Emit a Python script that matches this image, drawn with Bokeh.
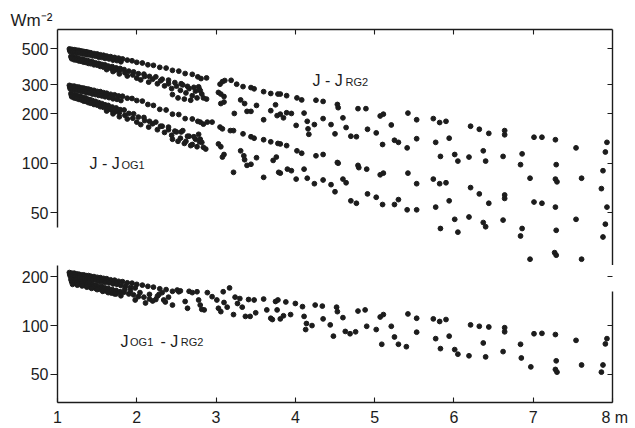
from bokeh.plotting import figure
from bokeh.layouts import column
from bokeh.models import Range1d, LogAxis, FixedTicker, NumeralTickFormatter, Label
from bokeh.embed import file_html
from bokeh.resources import INLINE

FONT = "Liberation Sans"
INK = "#1c1c1c"

# ---------------- axis ticks ----------------
x_ticks = [1, 2, 3, 4, 5, 6, 7, 8]
x_inner_ticks = [2, 3, 4, 5, 6, 7]
top_y_ticks = [50, 100, 200, 300, 500]
bottom_y_ticks = [50, 100, 200]
unit_label_y = "Wm\u207b\u00b2"
x_last_label = "\u00a08\u00a0m"

# ---------------- J - J_RG2 (upper band, top panel) ----------------
rg2_row_a1 = [(1.15,497),(1.18,494),(1.21,492),(1.24,489),(1.27,487),(1.30,483),(1.33,480),(1.36,478),(1.39,474),(1.42,471),(1.46,466),(1.50,463),(1.54,458),(1.58,455),(1.62,450),(1.67,446),(1.72,441),(1.77,437),(1.82,432),(1.88,425),(1.94,421),(2.00,412),(2.07,408),(2.14,398),(2.21,395),(2.29,384),(2.37,380),(2.45,368),(2.53,364),(2.61,352),(2.70,348)]
rg2_row_a3 = [(1.155,488),(1.185,486),(1.215,483),(1.245,480),(1.275,478),(1.305,475),(1.335,472),(1.365,469),(1.395,466),(1.43,462),(1.47,458),(1.51,454),(1.55,450),(1.59,446),(1.635,442)]
rg2_row_a2 = [(1.16,479),(1.19,475),(1.22,474),(1.25,470),(1.28,469),(1.31,464),(1.34,463),(1.37,458),(1.40,457),(1.44,451),(1.48,449),(1.52,443),(1.56,441),(1.60,435),(1.65,432),(1.70,425),(1.75,422),(1.80,415)]
rg2_row_b1 = [(1.17,448),(1.20,444),(1.23,440),(1.26,437),(1.29,431),(1.32,430),(1.35,424),(1.38,422),(1.41,417),(1.44,415),(1.48,409),(1.52,406),(1.56,400),(1.60,397),(1.64,391),(1.69,388),(1.74,381),(1.79,378),(1.84,372),(1.90,364),(1.96,360),(2.02,351),(2.09,349),(2.16,338),(2.24,336),(2.32,325),(2.40,321),(2.48,310),(2.56,305),(2.64,294),(2.72,290)]
rg2_row_b3 = [(1.175,440),(1.205,436),(1.235,433),(1.265,429),(1.295,426),(1.325,422),(1.355,419),(1.385,415),(1.415,412),(1.45,407),(1.49,403),(1.53,398),(1.57,394),(1.61,390)]
rg2_row_b2 = [(1.18,433),(1.21,427),(1.24,425),(1.27,420),(1.30,418),(1.33,413),(1.36,411),(1.39,406),(1.42,404),(1.46,398),(1.50,396),(1.54,389),(1.58,385),(1.63,380),(1.68,377),(1.73,370),(1.78,367)]
rg2_scatter = [(1.62,372),(1.70,362),(1.78,350),(1.85,356),(1.88,340),(1.95,345),(2.00,330),(2.05,322),(2.10,338),(2.15,312),(2.20,325),(2.26,305),(2.30,318),(2.35,296),(2.40,305),(2.44,285),(2.45,262),(2.50,295),(2.52,250),(2.55,278),(2.58,300),(2.60,246),(2.62,268),(2.66,285),(2.68,242),(2.70,258),(2.74,275),(2.76,250),(2.78,292),(2.77,336),(2.79,282)]
rg2_mid = [(2.81,328),(2.88,331),(3.05,303),(3.08,314),(3.11,319),(3.19,320),(3.26,303),(3.34,293),(3.44,289),(3.48,284),(3.60,273),(3.69,266),(3.78,264),(3.81,264),(3.89,258),(4.02,250),
           (2.80,277),(2.82,264),(2.84,250),(2.88,246),(3.03,270),(3.06,264),(3.10,255),(3.06,231),(3.10,236),(3.23,201),(3.31,243),(3.36,231),(3.39,207),(3.44,207),(3.51,225),(3.60,184),(3.69,209),(3.75,227),(3.77,195),(3.81,199),(3.85,189),(3.89,203),(3.95,201),(4.01,170)]
rg2_far = [(4.08,243),(4.26,242),(4.35,238),(4.53,228),(4.54,218),(4.79,215),(4.89,215),(5.07,194),(5.11,199),(5.42,202),(5.53,184),(5.74,187),(5.82,177),(5.90,180),(6.21,168),(6.32,161),(6.44,152),(6.64,158),(6.64,149),(7.01,144),(7.11,144),(7.28,139),(7.54,124),(7.93,134),(7.91,117),
           (4.11,202),(4.15,180),(4.16,162),(4.17,150),(4.24,172),(4.35,187),(4.45,172),(4.50,151),(4.60,189),(4.64,165),(4.70,146),(4.77,145),(4.91,161),(5.02,153),(5.10,130),(5.21,171),(5.25,138),(5.30,134),(5.41,124),(5.53,141),(5.77,134),(5.94,142)]

# ---------------- J - J_OG1 (lower band, top panel) ----------------
og1_row_a1 = [(1.15,298),(1.18,295),(1.21,295),(1.24,292),(1.27,291),(1.30,288),(1.33,287),(1.36,284),(1.39,283),(1.42,280),(1.46,278),(1.50,274),(1.54,273),(1.58,269),(1.62,267),(1.67,263),(1.72,261),(1.77,257),(1.82,256),(1.88,249),(1.94,248),(2.00,241),(2.07,239),(2.14,228),(2.21,225),(2.29,213),(2.37,211),(2.45,199),(2.53,198),(2.61,187),(2.70,186)]
og1_row_a3 = [(1.155,291),(1.185,289),(1.215,288),(1.245,286),(1.275,284),(1.305,282),(1.335,280),(1.365,278),(1.395,276),(1.43,273),(1.47,270),(1.51,268),(1.55,265),(1.59,262),(1.635,259)]
og1_row_a2 = [(1.16,284),(1.19,281),(1.22,280),(1.25,277),(1.28,276),(1.31,273),(1.34,272),(1.37,269),(1.40,268),(1.44,264),(1.48,262),(1.52,259),(1.56,257),(1.60,254),(1.65,251),(1.70,247),(1.75,245),(1.80,241)]
og1_row_b1 = [(1.17,266),(1.20,262),(1.23,260),(1.26,257),(1.29,255),(1.32,251),(1.35,250),(1.38,246),(1.41,244),(1.44,241),(1.48,238),(1.52,234),(1.56,231),(1.60,227),(1.64,225),(1.69,220),(1.74,217),(1.79,212),(1.84,211),(1.90,201),(1.96,200),(2.02,191),(2.09,190),(2.16,180),(2.24,178),(2.32,168),(2.40,166),(2.48,157),(2.56,155),(2.64,146),(2.72,145)]
og1_row_b3 = [(1.175,260),(1.205,257),(1.235,254),(1.265,252),(1.295,249),(1.325,246),(1.355,244),(1.385,241),(1.415,238),(1.45,235),(1.49,232),(1.53,228),(1.57,225),(1.61,222)]
og1_row_b2 = [(1.18,254),(1.21,250),(1.24,248),(1.27,245),(1.30,243),(1.33,239),(1.36,238),(1.39,234),(1.42,232),(1.46,228),(1.50,226),(1.54,221),(1.58,219),(1.63,214),(1.68,211),(1.73,206),(1.78,203)]
og1_scatter = [(1.62,208),(1.70,200),(1.78,192),(1.85,196),(1.88,186),(1.95,188),(2.00,178),(2.05,172),(2.10,182),(2.15,166),(2.20,174),(2.26,160),(2.30,168),(2.35,154),(2.40,160),(2.44,148),(2.45,140),(2.50,155),(2.52,136),(2.55,142),(2.58,158),(2.60,132),(2.62,136),(2.66,146),(2.68,128),(2.70,130),(2.74,140),(2.76,126),(2.78,150),(2.77,180),(2.79,135)]
og1_mid = [(2.80,178),(2.84,173),(2.89,178),(2.95,178),(3.05,166),(3.08,162),(3.18,158),(3.22,158),(3.34,151),(3.44,145),(3.48,142),(3.60,139),(3.69,135),(3.78,132),(3.81,131),(3.89,128),(4.02,119),
           (2.80,140),(2.82,134),(2.84,125),(2.87,122),(3.03,131),(3.06,126),(3.10,113),(3.08,109),(3.22,88),(3.31,119),(3.35,111),(3.36,105),(3.39,97),(3.44,98.5),(3.51,108),(3.60,82),(3.72,104),(3.76,109),(3.79,88),(3.81,87),(3.90,92),(3.95,90),(4.01,80)]
og1_far = [(4.08,115),(4.26,111),(4.35,113),(4.53,101),(4.54,100),(4.79,97),(4.80,94),(4.90,92),(5.07,85),(5.11,87),(5.42,87),(5.53,75),(5.74,80),(5.82,75),(5.90,76),(5.83,110),(6.01,113),(6.05,103),(6.19,109),(6.37,119),(6.40,103),(6.62,110),(6.86,114),(6.84,98),(6.96,81),(7.29,98),(7.28,80),(7.30,77),(7.61,81),(7.88,90),(7.86,70),(7.93,54),
           (4.11,92),(4.15,81),(4.24,75),(4.35,79),(4.45,74),(4.50,67),(4.60,80),(4.64,76),(4.70,59),(4.77,57),(4.91,65),(5.02,62),(5.10,56),(5.25,56),(5.30,60),(5.41,52),(5.53,52),(5.77,54),(5.94,59),(6.21,71),(6.32,65),(6.44,57),(6.64,64),(6.64,61),(7.01,58),(7.11,57),(7.28,54),(6.01,45.5),(6.19,47),(6.62,45),(7.54,45.5),
           (5.83,40),(6.05,38),(6.40,41),(6.86,40),(6.84,36),(6.96,26),(7.29,39),(7.27,28.5),(7.29,27.5),(7.61,26),(7.88,35.5),(7.91,42.5),(6.37,43.5)]

# ---------------- J_OG1 - J_RG2 (bottom panel) ----------------
diff_row_a1 = [(1.15,213),(1.18,211),(1.21,211),(1.24,209),(1.27,208),(1.30,206),(1.33,206),(1.36,204),(1.39,204),(1.42,202),(1.46,201),(1.50,199),(1.54,198),(1.58,196),(1.62,195),(1.67,192),(1.72,191),(1.77,188),(1.82,187),(1.88,184),(1.94,183),(2.00,180),(2.07,178),(2.14,175),(2.21,173),(2.29,169),(2.37,167),(2.45,163),(2.53,162)]
diff_row_a3 = [(1.155,208),(1.185,206),(1.215,206),(1.245,204),(1.275,203),(1.305,201),(1.335,200),(1.365,199),(1.395,198),(1.43,196),(1.47,195),(1.51,193),(1.55,192),(1.59,190),(1.635,188),(1.685,186),(1.735,184)]
diff_row_a2 = [(1.16,203),(1.19,201),(1.22,201),(1.25,199),(1.28,199),(1.31,196),(1.34,196),(1.37,194),(1.40,194),(1.44,191),(1.48,191),(1.52,188),(1.56,187),(1.60,185),(1.65,184),(1.70,181),(1.75,180),(1.80,177),(1.86,176),(1.92,172),(1.98,171)]
diff_row_b3 = [(1.175,190),(1.205,188),(1.235,187),(1.265,185),(1.295,184),(1.325,182),(1.355,181),(1.385,179),(1.415,178),(1.45,176),(1.49,174),(1.53,172),(1.57,170),(1.61,168)]
diff_row_b1 = [(1.17,194),(1.20,191),(1.23,191),(1.26,188),(1.29,188),(1.32,185),(1.35,185),(1.38,182),(1.41,182),(1.44,179),(1.48,178),(1.52,175),(1.56,174),(1.60,171),(1.64,170),(1.69,167),(1.74,165),(1.79,162),(1.84,161),(1.90,157),(1.96,155),(2.02,151),(2.09,150),(2.16,146),(2.24,145)]
diff_row_b2 = [(1.18,186),(1.21,184),(1.24,184),(1.27,181),(1.30,181),(1.33,178),(1.36,177),(1.40,174),(1.44,173),(1.48,170),(1.53,168),(1.58,164),(1.63,162),(1.68,159),(1.74,157),(1.80,153)]
diff_row_c = [(1.19,180),(1.25,178),(1.31,176),(1.37,173),(1.43,170),(1.50,167),(1.57,163),(1.64,160),(1.72,157)]
diff_scatter = [(1.85,168),(1.92,164),(1.98,144),(2.04,160),(2.11,138),(2.16,156),(2.20,142),(2.26,152),(2.32,160),(2.36,140)]
diff_mid = [(2.28,156),(2.34,144),(2.40,150),(2.45,134),(2.51,166),(2.55,164),(2.61,141),(2.64,128),(2.66,163),(2.70,160),(2.76,162),(2.78,144),(2.80,134),(2.82,126),(2.85,125),(2.89,160),(2.95,151),(3.01,144),(3.03,128),(3.06,122),(3.09,162),(3.10,139),(3.14,130),(3.17,171),(3.22,117),(3.24,150),(3.27,137),(3.30,147),(3.33,130),(3.37,114),(3.41,145),(3.43,114),(3.48,144),(3.50,120),(3.60,146),(3.64,125),(3.69,111),(3.71,109),(3.75,141),(3.77,125),(3.78,144),(3.81,110),(3.85,115),(3.88,140),(3.94,117),(4.00,137),(4.09,131),(4.11,114),(4.13,94.5),(4.14,103),(4.21,100),(4.25,134)]
diff_far = [(4.34,132),(4.35,110),(4.44,101),(4.48,86),(4.52,130),(4.53,122),(4.60,112),(4.63,92),(4.69,89),(4.76,91.5),(4.79,123),(4.88,125),(4.90,99),(5.02,94.5),(5.07,113),(5.11,117),(5.09,76.6),(5.21,99),(5.25,85),(5.30,76.6),(5.40,74),(5.42,118),(5.53,111),(5.53,91),(5.74,110),(5.77,83),(5.82,106),(5.83,72),(5.90,109),(5.94,86),(6.01,71),(6.05,66.5),(6.19,65),(6.21,101),(6.32,99),(6.37,78),(6.40,64),(6.44,98),(6.62,69),(6.64,97),(6.64,91.5),(6.84,76.6),(6.85,63),(6.97,55.5),(7.01,89),(7.11,89.5),(7.28,88),(7.29,60.5),(7.28,53.5),(7.30,51.5),(7.54,81),(7.61,57),(7.86,51.5),(7.88,57),(7.91,77),(7.93,83)]

rg2_pts = rg2_row_a1 + rg2_row_a3 + rg2_row_a2 + rg2_row_b1 + rg2_row_b3 + rg2_row_b2 + rg2_scatter + rg2_mid + rg2_far
og1_pts = og1_row_a1 + og1_row_a3 + og1_row_a2 + og1_row_b1 + og1_row_b3 + og1_row_b2 + og1_scatter + og1_mid + og1_far
diff_pts = diff_row_a1 + diff_row_a3 + diff_row_a2 + diff_row_b3 + diff_row_b1 + diff_row_b2 + diff_row_c + diff_scatter + diff_mid + diff_far

s1_x = [p[0] for p in rg2_pts]; s1_y = [p[1] for p in rg2_pts]
s2_x = [p[0] for p in og1_pts]; s2_y = [p[1] for p in og1_pts]
s3_x = [p[0] for p in diff_pts]; s3_y = [p[1] for p in diff_pts]


def style_axis(ax, ticks, tick_in, tick_out, labels, standoff=2):
    ax.ticker = FixedTicker(ticks=ticks)
    ax.axis_line_color = INK
    ax.axis_line_width = 1.4
    ax.major_tick_line_color = INK
    ax.major_tick_line_width = 1.1
    ax.major_tick_in = tick_in
    ax.major_tick_out = tick_out
    ax.minor_tick_line_color = None
    ax.minor_tick_in = 0
    ax.minor_tick_out = 0
    if labels:
        ax.major_label_text_font = FONT
        ax.major_label_text_font_size = "16px"
        ax.major_label_text_color = INK
        ax.major_label_standoff = standoff
        ax.formatter = NumeralTickFormatter(format="0")
    else:
        ax.major_label_text_font_size = "1px"
        ax.major_label_text_color = None
        ax.major_label_standoff = 0


# ---------------- top panel ----------------
p1 = figure(width=635, height=265, x_range=Range1d(1, 8), y_range=Range1d(23.8, 653),
            y_axis_type="log", x_axis_location="above",
            toolbar_location=None, output_backend="svg",
            min_border_left=57, min_border_right=23, min_border_top=29, min_border_bottom=0)
p1.xgrid.visible = False
p1.ygrid.visible = False
p1.outline_line_color = None
style_axis(p1.xaxis[0], x_inner_ticks, 5, 0, False)
style_axis(p1.yaxis[0], top_y_ticks, 0, 7, True)
p1.yaxis[0].bounds = (40.5, 653)
r1 = LogAxis()
style_axis(r1, top_y_ticks, 5, 0, False)
p1.add_layout(r1, "right")

p1.title.text = unit_label_y
p1.title.align = "left"
p1.title.offset = -47
p1.title.standoff = 0
p1.title.text_font = FONT
p1.title.text_font_size = "17px"
p1.title.text_font_style = "normal"
p1.title.text_color = INK

p1.scatter(s1_x, s1_y, size=4.8, color=INK, marker="circle")
p1.scatter(s2_x, s2_y, size=4.8, color=INK, marker="circle")


def add_text(p, x, y, text, size):
    p.add_layout(Label(x=x, y=y, text=text, text_font=FONT, text_font_size=size,
                       text_color=INK, text_baseline="alphabetic", text_align="left"))


add_text(p1, 4.216, 319, "J - J", "16px")
add_text(p1, 4.632, 314, "RG2", "11px")
add_text(p1, 1.404, 100, "J - J", "16px")
add_text(p1, 1.807, 98, "OG1", "11px")

# ---------------- bottom panel ----------------
p2 = figure(width=635, height=163, x_range=Range1d(1, 8), y_range=Range1d(33.4, 235.5),
            y_axis_type="log", toolbar_location=None, output_backend="svg",
            min_border_left=57, min_border_right=23, min_border_top=0, min_border_bottom=24)
p2.xgrid.visible = False
p2.ygrid.visible = False
p2.outline_line_color = None
style_axis(p2.xaxis[0], x_ticks, 5, 0, True, standoff=6)
p2.xaxis[0].major_label_overrides = {8: x_last_label}
style_axis(p2.yaxis[0], bottom_y_ticks, 0, 7, True)
r2 = LogAxis(bounds=(33.4, 163))
style_axis(r2, bottom_y_ticks, 5, 0, False)
p2.add_layout(r2, "right")

p2.scatter(s3_x, s3_y, size=4.8, color=INK, marker="circle")

add_text(p2, 1.794, 80, "J", "16px")
add_text(p2, 1.915, 79, "OG1", "11px")
add_text(p2, 2.30, 80, "- J", "16px")
add_text(p2, 2.555, 79, "RG2", "11px")

layout = column(p1, p2, spacing=0)
open("out.html", "w").write(file_html(layout, INLINE))
